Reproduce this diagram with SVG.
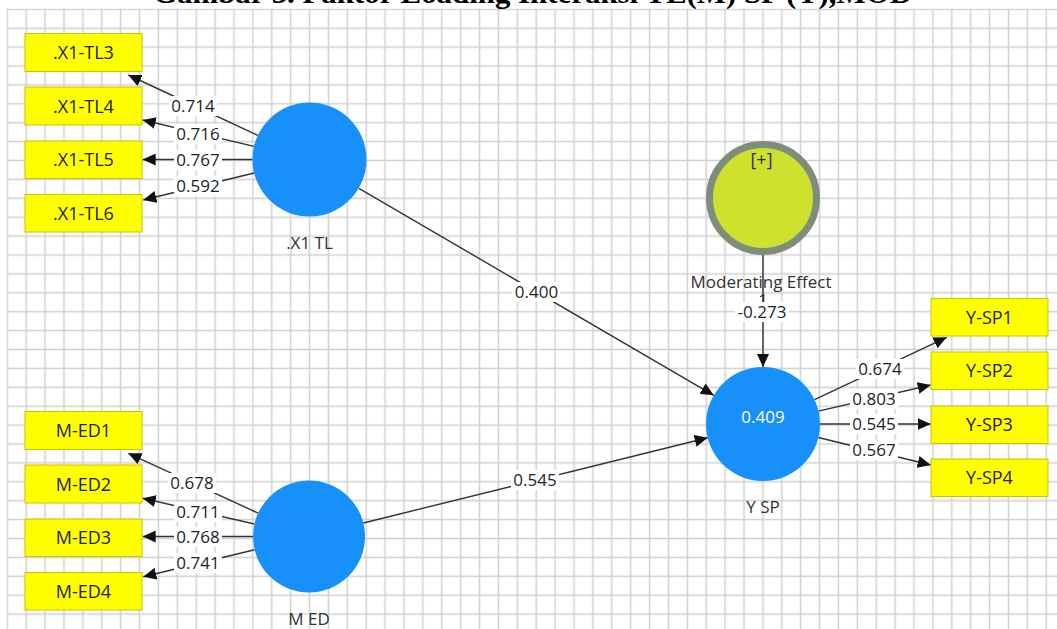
<svg xmlns="http://www.w3.org/2000/svg" width="1057" height="629" viewBox="0 0 1057 629">
<style>
.box{fill:#ffff00;stroke:#c9c400;stroke-width:1}
.btxt{font-family:"Open Sans","Noto Sans",sans-serif;font-size:18px;fill:#222;text-anchor:middle}
.lv{fill:#1890fa}
.name{font-family:"Open Sans","Noto Sans",sans-serif;font-size:17px;fill:#333;text-anchor:middle}
.edge{stroke:#333;stroke-width:1.4;fill:none}
.lbg{fill:#fff}
.ltxt{font-family:"Open Sans","Noto Sans",sans-serif;font-size:17px;fill:#1e1e2e;text-anchor:middle}
</style>
<defs>
<pattern id="grid" x="-2.145" y="-0.15" width="18.89" height="18.9" patternUnits="userSpaceOnUse">
<path d="M9.445 0V18.9M0 9.45H18.89" stroke="#d0d0d0" stroke-width="1.5"/>
</pattern>
<marker id="arr" markerUnits="userSpaceOnUse" markerWidth="14" markerHeight="12" refX="13" refY="6" orient="auto">
<path d="M0,0 L13,6 L0,12 z" fill="#111"/>
</marker>
</defs>
<rect width="1057" height="629" fill="#fff"/>
<rect x="6.5" y="8.5" width="1051" height="621" fill="url(#grid)"/>
<text x="153" y="3" font-family="Liberation Serif,serif" font-weight="bold" font-size="30" textLength="759" lengthAdjust="spacingAndGlyphs" fill="#000">Gambar 3. Faktor Loading Interaksi TL(M) SP (Y),MOD</text>

<g id="names">
<text class="name" x="309.5" y="249">.X1 TL</text>
<text class="name" x="309" y="625">M ED</text>
<text class="name" x="763" y="512.5">Y SP</text>
<text class="name" x="761" y="288">Moderating Effect</text>
<text class="name" x="763" y="306">1</text>
</g>

<g id="connectors">
<path class="edge" marker-end="url(#arr)" d="M257.8,135.4 L128.3,75"/>
<path class="edge" marker-end="url(#arr)" d="M254,146.4 L142.7,120"/>
<path class="edge" marker-end="url(#arr)" d="M252.5,159.5 L142.7,159.5"/>
<path class="edge" marker-end="url(#arr)" d="M254.1,173 L143.3,200"/>
<path class="edge" marker-end="url(#arr)" d="M258.1,513.1 L128.3,453.3"/>
<path class="edge" marker-end="url(#arr)" d="M254.4,524 L142.7,498.3"/>
<path class="edge" marker-end="url(#arr)" d="M253,536.5 L142.7,536.5"/>
<path class="edge" marker-end="url(#arr)" d="M254.6,549.7 L143.3,576.7"/>
<path class="edge" marker-end="url(#arr)" d="M814.5,399.7 L946.7,337.3"/>
<path class="edge" marker-end="url(#arr)" d="M818.5,411.1 L930.7,385"/>
<path class="edge" marker-end="url(#arr)" d="M820,424 L930.7,424"/>
<path class="edge" marker-end="url(#arr)" d="M818.4,437.5 L930.7,465"/>
<path class="edge" marker-end="url(#arr)" d="M358.9,188.4 L713.8,395.3"/>
<path class="edge" marker-end="url(#arr)" d="M363.4,523 L707.7,437.7"/>
<path class="edge" marker-end="url(#arr)" d="M763,255 L763,367"/>
<g id="edge-labels">
<rect class="lbg" x="169" y="96" width="48" height="20"/><text class="ltxt" x="193" y="112">0.714</text>
<rect class="lbg" x="174" y="124" width="48" height="20"/><text class="ltxt" x="198" y="140">0.716</text>
<rect class="lbg" x="174" y="150" width="48" height="20"/><text class="ltxt" x="198" y="166">0.767</text>
<rect class="lbg" x="174" y="176" width="48" height="20"/><text class="ltxt" x="198" y="192">0.592</text>
<rect class="lbg" x="168" y="473" width="48" height="20"/><text class="ltxt" x="192" y="489">0.678</text>
<rect class="lbg" x="174" y="502" width="48" height="20"/><text class="ltxt" x="198" y="518">0.711</text>
<rect class="lbg" x="174" y="527" width="48" height="20"/><text class="ltxt" x="198" y="543">0.768</text>
<rect class="lbg" x="174" y="553" width="48" height="20"/><text class="ltxt" x="198" y="569">0.741</text>
<rect class="lbg" x="856" y="359" width="48" height="20"/><text class="ltxt" x="880" y="375">0.674</text>
<rect class="lbg" x="850" y="389" width="48" height="20"/><text class="ltxt" x="874" y="405">0.803</text>
<rect class="lbg" x="850" y="414" width="48" height="20"/><text class="ltxt" x="874" y="430">0.545</text>
<rect class="lbg" x="850" y="440" width="48" height="20"/><text class="ltxt" x="874" y="456">0.567</text>
<rect class="lbg" x="512" y="282" width="48" height="20"/><text class="ltxt" x="536.5" y="298">0.400</text>
<rect class="lbg" x="511" y="470" width="48" height="20"/><text class="ltxt" x="535" y="486">0.545</text>
<rect class="lbg" x="735" y="302" width="54" height="20"/><text class="ltxt" x="762" y="318">-0.273</text>
</g>
</g>

<g id="X1TL"><circle class="lv" cx="309.5" cy="159.5" r="57"/></g>
<g id="MED"><circle class="lv" cx="309" cy="536.5" r="56"/></g>
<g id="YSP"><circle class="lv" cx="763" cy="424" r="57"/><text x="763" y="422.5" font-family="Open Sans,Noto Sans,sans-serif" font-size="17" fill="#fff" text-anchor="middle">0.409</text></g>
<g id="ModEffect"><circle cx="763" cy="198" r="53.5" fill="#cde12e" stroke="#7f8e7b" stroke-width="7"/><text x="761.5" y="166" font-family="Open Sans,Noto Sans,sans-serif" font-size="18" fill="#333" text-anchor="middle">[+]</text></g>

<g id="X1-TL3"><rect class="box" x="25" y="33.5" width="117" height="38"/><text class="btxt" x="83.5" y="59">.X1-TL3</text></g>
<g id="X1-TL4"><rect class="box" x="25" y="87" width="117" height="38"/><text class="btxt" x="83.5" y="112.5">.X1-TL4</text></g>
<g id="X1-TL5"><rect class="box" x="25" y="141" width="117" height="37.5"/><text class="btxt" x="83.5" y="166">.X1-TL5</text></g>
<g id="X1-TL6"><rect class="box" x="25" y="194.5" width="117" height="37.5"/><text class="btxt" x="83.5" y="219.5">.X1-TL6</text></g>
<g id="M-ED1"><rect class="box" x="25" y="411.5" width="117" height="38"/><text class="btxt" x="83.5" y="437">M-ED1</text></g>
<g id="M-ED2"><rect class="box" x="25" y="465" width="117" height="38"/><text class="btxt" x="83.5" y="490.5">M-ED2</text></g>
<g id="M-ED3"><rect class="box" x="25" y="519" width="117" height="37.5"/><text class="btxt" x="83.5" y="544">M-ED3</text></g>
<g id="M-ED4"><rect class="box" x="25" y="572.5" width="117" height="37.5"/><text class="btxt" x="83.5" y="597.5">M-ED4</text></g>
<g id="Y-SP1"><rect class="box" x="931" y="298.5" width="117" height="37.5"/><text class="btxt" x="989.5" y="323.5">Y-SP1</text></g>
<g id="Y-SP2"><rect class="box" x="931" y="352" width="117" height="37.5"/><text class="btxt" x="989.5" y="377">Y-SP2</text></g>
<g id="Y-SP3"><rect class="box" x="931" y="406" width="117" height="37.5"/><text class="btxt" x="989.5" y="431">Y-SP3</text></g>
<g id="Y-SP4"><rect class="box" x="931" y="459" width="117" height="37.5"/><text class="btxt" x="989.5" y="484">Y-SP4</text></g>
</svg>
